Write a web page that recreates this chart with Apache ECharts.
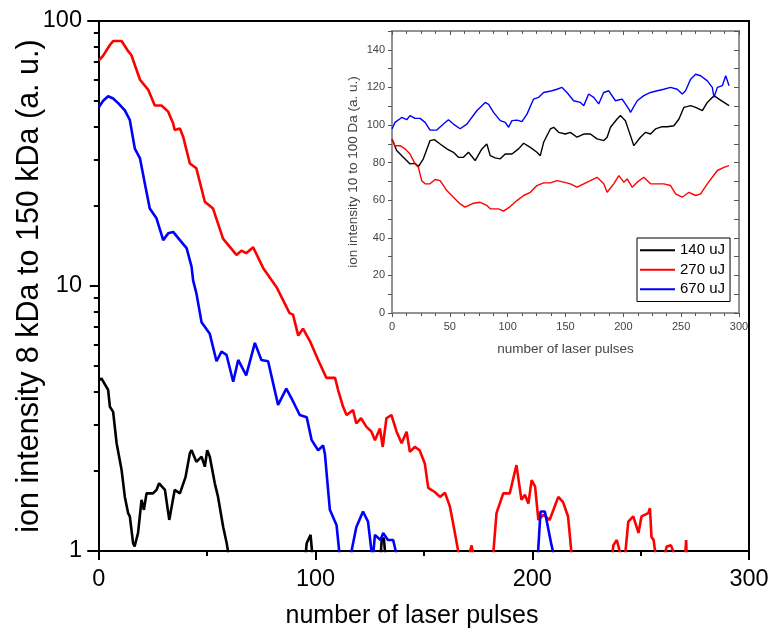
<!DOCTYPE html>
<html>
<head>
<meta charset="utf-8">
<script src="https://cdn.jsdelivr.net/npm/echarts@6/dist/echarts.min.js"></script>
<style>
html,body{margin:0;padding:0;background:#fff;}
#chart{width:769px;height:633px;}
</style>
</head>
<body>
<div id="chart"></div>
<script>
// ---------- main chart data (x = number of laser pulses, y = ion intensity 8-150 kDa) ----------
var seriesNames = ['140 uJ', '270 uJ', '670 uJ'];
var seriesColors = ['#000000', '#ff0000', '#0000ff'];

var mainBlack = [[0,4.4],[1.2,4.48],[2,4.52],[4.3,4.05],[5.1,3.5],[6.6,3.35],[8.2,2.55],[10.5,2.02],[12,1.6],[13.5,1.39],[14.3,1.35],[15.8,1.07],[16.5,1.04],[18.1,1.17],[19.7,1.56],[20.8,1.43],[22,1.65],[25,1.65],[26.6,1.7],[27.8,1.8],[30.5,1.7],[32.5,1.31],[35,1.7],[37.4,1.65],[40,1.9],[42,2.34],[42.8,2.4],[45,2.17],[47.4,2.27],[48.9,2.08],[50,2.4],[51.2,2.27],[53.5,1.8],[55,1.6],[57.4,1.23],[59,1.07],[60,0.95],[62,0.7],[94,0.7],[95.9,1.07],[97.7,1.15],[98.5,0.97],[100,0.7],[129,0.7],[130.5,1.1],[131.5,1.12],[132.5,0.9],[134,0.7],[290,0.7]];

var mainRed = [[0,71],[2,74],[5,81],[6.6,84],[10.5,84],[13.7,76.6],[15,74.4],[19,60],[22.8,55],[25.8,48],[28.9,48],[32,45.5],[34.3,41],[35,38.8],[37.4,39.3],[38.9,36.6],[42,29],[45,27.8],[48.9,20.8],[52.7,19.6],[57.3,15.1],[63.5,13.1],[65.8,13.6],[68,13.3],[71.2,14],[75.8,11.7],[82,9.9],[85,8.85],[88,7.9],[89.6,7.8],[92,6.5],[94.2,6.9],[97.4,6.2],[101.2,5.26],[105,4.5],[106.6,4.5],[109,4.5],[110.4,4.05],[112.7,3.5],[114.3,3.26],[117.3,3.4],[118.8,3.03],[121,3.17],[123.5,2.94],[125.8,2.82],[127.4,2.62],[129.7,2.9],[131,2.47],[132.7,3.17],[135,3.26],[137.4,2.82],[139.7,2.55],[142,2.82],[143.5,2.37],[145.8,2.47],[148,2.4],[150.4,2.14],[152,1.73],[155,1.67],[157.4,1.6],[159.7,1.66],[162,1.47],[163.5,1.27],[165.8,1.0],[167,0.8],[170,0.9],[172,1.05],[173.5,0.9],[175,0.7],[180,0.7],[182,0.98],[183.5,1.39],[186.6,1.65],[189.6,1.65],[192.7,2.11],[195,1.56],[196.6,1.63],[198.2,1.51],[199.7,1.85],[201.3,1.75],[202.8,1.31],[205.2,1.37],[208,1.31],[212,1.6],[214.2,1.53],[216.5,1.35],[218,1.0],[219,0.7],[235,0.7],[237.4,1.05],[239,1.1],[241,0.95],[242.5,0.9],[244.3,1.29],[246.6,1.35],[249,1.17],[250.4,1.35],[253.5,1.39],[254.3,1.45],[255,1.13],[256,1.1],[257,0.95],[259,0.8],[262,1.04],[264,1.05],[266,0.95],[268,0.8],[270.5,0.95],[271,1.1],[271.5,0.8],[273,0.6],[290,0.6]];

var mainBlue = [[0,47.3],[2,50],[4.3,52],[6.6,51],[8.9,49],[12,46],[14.3,42.3],[16.6,33],[19,30.3],[21.2,24.4],[23.5,19.6],[26.6,18],[29.7,14.9],[32,15.8],[34.3,16],[37.4,14.9],[40.5,13.9],[42.8,11.8],[43.5,10.5],[45,9.4],[47.4,7.3],[51.2,6.6],[54.3,5.2],[56.6,5.65],[58.9,5.5],[62,4.35],[64.3,5.26],[68,4.6],[72,6.1],[75,5.26],[78.1,5.2],[82.7,3.56],[86.5,4.1],[88.9,3.77],[92.7,3.26],[95.9,3.2],[98.2,2.62],[101.2,2.4],[103.5,2.5],[104.3,2.33],[106.6,1.43],[109.7,1.25],[110.9,1.0],[112,0.7],[115,0.7],[116.6,1.0],[118.8,1.23],[121.9,1.41],[124.2,1.29],[125.8,1.0],[126.5,0.95],[127.4,1.15],[130,1.1],[131.2,1.17],[133.4,1.1],[135.8,1.1],[137,1.0],[138,0.7],[201,0.7],[202.7,1.0],[203.8,1.41],[205.8,1.41],[208.9,1.05],[209.5,1.0],[211,0.7],[290,0.7]];

// ---------- inset data (ion intensity 10 - 100 Da) ----------
var insetBlack = [[0,92.6],[4,86.4],[9.8,82.8],[15.6,79.3],[19.9,79.6],[22.8,77.9],[27.1,82],[32.9,91.7],[36.6,92.2],[41.6,89.9],[47.4,87.3],[53.1,85.5],[57.5,82.8],[61.8,82.8],[66.1,85.5],[71.9,81.1],[77.7,87.3],[82,89.9],[84.9,83.7],[89.2,82.5],[93.6,82],[97.9,84.6],[103.7,84.6],[109.4,87.3],[113.8,90.3],[119.6,88.1],[125.3,85.5],[128.2,83.7],[131.1,90.8],[136.9,97.9],[139.8,98.8],[144.1,96.1],[149.9,95.2],[154.2,96.1],[160,93.5],[165.8,95.2],[171.5,95.2],[177.3,92.6],[183.1,91.7],[186,93.5],[188.9,98.8],[194.6,103.2],[197.5,105],[201.8,102.3],[204.7,97],[209.1,89],[214.8,93.5],[219.2,96.1],[223.5,95.2],[227.8,97.9],[233.6,99.1],[238,99.1],[243.7,99.6],[248.1,103.2],[252.4,109.4],[258.2,110.3],[262.5,109.4],[268.3,107.6],[272.6,112],[278.4,115.6],[282.7,113.8],[287,112],[291.4,110.3]];

var insetRed = [[0,92.6],[2.6,89],[6.9,89],[11.3,87.3],[15.6,84.6],[19.9,79.3],[22.8,77.5],[25.7,70.4],[28.6,68.7],[32.9,68.7],[37.2,71],[41.6,70.4],[47.4,65.1],[53.1,61.6],[58.9,58],[63.2,56.3],[70.5,58.4],[76.2,58.9],[82,57.2],[84.9,55.4],[92.1,55.4],[96.4,54.2],[102.2,56.6],[108,59.8],[113.8,62.5],[119.6,64.2],[125.3,67.8],[131.1,69.2],[136.9,69.2],[142.6,70.4],[148.4,69.6],[154.2,68.7],[160,66.9],[165.8,68.7],[171.5,70.4],[177.3,72.2],[183.1,68.7],[186,64.2],[191.7,68.7],[196.1,73.1],[200.4,69.6],[203.3,71.3],[207.6,66.9],[212,69.6],[217.7,72.2],[223.5,68.7],[229.3,68.7],[235,68.7],[240.8,67.8],[245.2,63.4],[250.9,61.6],[256.7,64.2],[262.5,62.5],[266.8,63.4],[272.6,68.7],[276.9,72.2],[281.3,75.8],[287,77.5],[291.4,78.4]];

var insetBlue = [[0,97.9],[2.6,101.4],[8.4,104],[12.7,102.8],[15.6,105],[19.9,103.5],[24.3,103.5],[28.6,101.4],[32.9,97.3],[38.7,97.3],[44.5,100.5],[48.8,102.8],[53.1,100.5],[58.9,98],[64.7,100.5],[73.3,107.6],[80.6,112],[83.5,111],[87.8,106.7],[93.6,102.3],[97.9,101.4],[100.8,98.8],[103.7,102.3],[108,102.6],[112.3,101.8],[116.7,105.8],[122.4,113.8],[126.8,114.7],[131.1,117.3],[138.3,118.2],[142.6,119],[147,120],[151.3,117.3],[157,112.9],[162.9,112],[165.8,110.3],[170,116.5],[174.4,114.7],[178.7,111.2],[183,117.3],[187.4,118.2],[193.2,112.9],[199,113.8],[204.8,108.5],[206.2,106.7],[212,112.9],[217.7,115.6],[223.5,117.3],[229.3,118.2],[235,119],[240.8,120],[246.6,119],[250.9,116.5],[253.8,118.2],[258.2,124.4],[262.5,127],[266.8,126.2],[272.6,123.5],[276.9,120],[278.4,114.7],[281.3,120],[285.6,120.9],[288.5,126.2],[291.4,120.9]];

// tick values
var mainXLabels = [0, 100, 200, 300];
var mainXMinor = [50, 150, 250];
var mainYMinor = [2,3,4,5,6,7,8,9,20,30,40,50,60,70,80,90];
var insetYLabels = [0,20,40,60,80,100,120,140];

var FONT = '"Liberation Sans", Arial, sans-serif';
var chart = echarts.init(document.getElementById('chart'), null, {renderer: 'canvas'});

var hidden = {show: false};
var option = {
  backgroundColor: '#ffffff',
  animation: false,
  grid: [
    {left: 88, top: 21, width: 661, height: 530, containLabel: false, outerBoundsMode: 'none'},
    {left: 392, top: 31, width: 347, height: 282, show: true, backgroundColor: '#ffffff', borderColor: '#8c8c8c', borderWidth: 1.5, containLabel: false, outerBoundsMode: 'none'}
  ],
  legend: {
    data: seriesNames,
    orient: 'vertical',
    left: 637, top: 238,
    icon: 'rect',
    itemWidth: 35, itemHeight: 2,
    itemGap: 3,
    padding: [4, 5, 4, 3],
    backgroundColor: '#ffffff',
    borderColor: '#000000', borderWidth: 1,
    textStyle: {fontFamily: FONT, fontSize: 15, color: '#000', lineHeight: 16.5},
    selectedMode: false
  },
  xAxis: [
    // 0: main bottom (labels + major ticks)
    {gridIndex: 0, type: 'value', min: -5, max: 300, position: 'bottom',
     axisLine: {onZero: false, lineStyle: {color: '#000', width: 2}},
     axisTick: {show: true, length: 9, inside: false, customValues: mainXLabels, lineStyle: {color: '#000', width: 2}},
     axisLabel: {customValues: mainXLabels, fontFamily: FONT, fontSize: 23.5, color: '#000', margin: 17},
     splitLine: hidden,
     name: 'number of laser pulses', nameLocation: 'middle', nameGap: 53, nameMoveOverlap: false,
     nameTextStyle: {fontFamily: FONT, fontSize: 25, color: '#000', padding: [0, 13, 0, 0]}},
    // 1: main bottom minor ticks
    {gridIndex: 0, type: 'value', min: -5, max: 300, position: 'bottom',
     axisLine: {show: false, onZero: false},
     axisTick: {show: true, length: 5, customValues: mainXMinor, lineStyle: {color: '#000', width: 2}},
     axisLabel: hidden, splitLine: hidden},
    // 2: main top frame line
    {gridIndex: 0, type: 'value', min: -5, max: 300, position: 'top',
     axisLine: {onZero: false, lineStyle: {color: '#000', width: 2}},
     axisTick: hidden, axisLabel: hidden, splitLine: hidden},
    // 3: inset bottom
    {gridIndex: 1, type: 'value', min: 0, max: 300, interval: 50, position: 'bottom',
     axisLine: {onZero: false, lineStyle: {color: '#8c8c8c', width: 1.5}},
     axisTick: {show: true, length: 4, lineStyle: {color: '#555', width: 1}},
     minorTick: {show: true, splitNumber: 4, length: 3, lineStyle: {color: '#555', width: 1}},
     axisLabel: {fontFamily: FONT, fontSize: 11, color: '#444', margin: 8},
     splitLine: hidden,
     name: 'number of laser pulses', nameLocation: 'middle', nameGap: 29, nameMoveOverlap: false,
     nameTextStyle: {fontFamily: FONT, fontSize: 13.5, color: '#444'}},
    // 4: inset top mirror
    {gridIndex: 1, type: 'value', min: 0, max: 300, interval: 50, position: 'top',
     axisLine: {onZero: false, lineStyle: {color: '#8c8c8c', width: 1.5}},
     axisTick: {show: true, inside: true, length: 4, lineStyle: {color: '#555', width: 1}},
     minorTick: {show: true, splitNumber: 4, length: 3, lineStyle: {color: '#555', width: 1}},
     axisLabel: hidden, splitLine: hidden}
  ],
  yAxis: [
    // 0: main left log axis with labels
    {gridIndex: 0, type: 'log', logBase: 10, min: 1, max: 100, position: 'left',
     axisLine: {onZero: true, lineStyle: {color: '#000', width: 2}},
     axisTick: {show: true, length: 9, lineStyle: {color: '#000', width: 2}},
     axisLabel: {fontFamily: FONT, fontSize: 23.5, color: '#000', margin: 6},
     splitLine: hidden, minorTick: hidden,
     name: 'ion intensity 8 kDa to 150 kDa (a. u.)', nameLocation: 'middle', nameGap: 43, nameMoveOverlap: false,
     nameRotate: 90,
     nameTextStyle: {fontFamily: FONT, fontSize: 30.5, color: '#000'}},
    // 1: main left minor ticks
    {gridIndex: 0, type: 'log', logBase: 10, min: 1, max: 100, position: 'left',
     axisLine: {show: false, onZero: true},
     axisTick: {show: true, length: 5, customValues: mainYMinor, lineStyle: {color: '#000', width: 2}},
     axisLabel: hidden, splitLine: hidden},
    // 2: main right frame line
    {gridIndex: 0, type: 'log', logBase: 10, min: 1, max: 100, position: 'right',
     axisLine: {onZero: false, lineStyle: {color: '#000', width: 2}},
     axisTick: hidden, axisLabel: hidden, splitLine: hidden},
    // 3: inset left
    {gridIndex: 1, type: 'value', min: 0, max: 150, interval: 10, position: 'left',
     axisLine: {onZero: false, lineStyle: {color: '#8c8c8c', width: 1.5}},
     axisTick: {show: true, length: 4, lineStyle: {color: '#555', width: 1}},
     axisLabel: {customValues: insetYLabels, fontFamily: FONT, fontSize: 11, color: '#444', margin: 7},
     splitLine: hidden,
     name: 'ion intensity 10 to 100 Da (a. u.)', nameLocation: 'middle', nameGap: 32, nameMoveOverlap: false,
     nameRotate: 90,
     nameTextStyle: {fontFamily: FONT, fontSize: 13.5, color: '#444'}},
    // 4: inset right mirror
    {gridIndex: 1, type: 'value', min: 0, max: 150, interval: 10, position: 'right',
     axisLine: {onZero: false, lineStyle: {color: '#8c8c8c', width: 1.5}},
     axisTick: {show: true, inside: true, length: 5, lineStyle: {color: '#555', width: 1}},
     axisLabel: hidden, splitLine: hidden}
  ],
  series: []
};

var mainData = [mainBlack, mainRed, mainBlue];
var insetData = [insetBlack, insetRed, insetBlue];
for (var i = 0; i < 3; i++) {
  option.series.push({
    type: 'line', name: seriesNames[i], xAxisIndex: 0, yAxisIndex: 0,
    data: mainData[i], showSymbol: false, symbol: 'none', clip: true,
    lineStyle: {color: seriesColors[i], width: 2.6}, itemStyle: {color: seriesColors[i]},
    z: 2
  });
}
for (var j = 0; j < 3; j++) {
  option.series.push({
    type: 'line', name: seriesNames[j], xAxisIndex: 3, yAxisIndex: 3,
    data: insetData[j], showSymbol: false, symbol: 'none', clip: true,
    lineStyle: {color: seriesColors[j], width: 1.4}, itemStyle: {color: seriesColors[j]},
    z: 5
  });
}
chart.setOption(option);
</script>
</body>
</html>
